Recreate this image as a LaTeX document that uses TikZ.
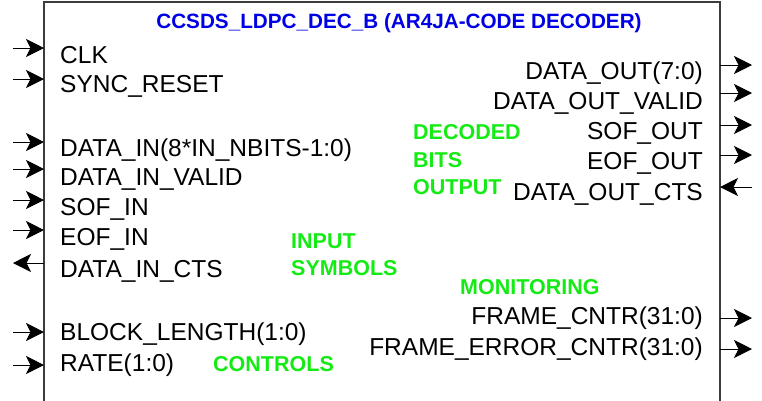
\documentclass[tikz,border=0pt]{standalone}
\usepackage{fontspec}
\setmainfont{Liberation Sans}
\usetikzlibrary{arrows.meta}
\definecolor{ttlblue}{RGB}{0,0,230}
\definecolor{lblgreen}{RGB}{20,235,20}
\definecolor{boxline}{RGB}{60,60,60}
\tikzset{
  port/.style={inner sep=0pt,font=\fontsize{24.5bp}{27bp}\selectfont,text height=17.5bp,text depth=0pt},
  lport/.style={port,anchor=west},
  rport/.style={port,anchor=east},
  grp/.style={inner sep=0pt,text=lblgreen,font=\fontsize{21.5bp}{27.5bp}\selectfont\bfseries,align=left},
  sig/.style={draw=black,line width=0.9bp,-{Stealth[length=18bp,width=18bp,inset=4.5bp]}},
}
\begin{document}
\begin{tikzpicture}[x=1bp,y=-1bp]
\useasboundingbox (0,0) rectangle (762,400);
% box (bottom edge lies below the picture)
\draw[boxline,line width=1.2bp] (44,410) -- (44,2) -- (720,2) -- (720,410);
\node[inner sep=0pt,text=ttlblue,font=\fontsize{20.7bp}{22bp}\selectfont\bfseries] (title) at (399,23) {CCSDS\_LDPC\_DEC\_B (AR4JA-CODE DECODER)};
% left ports
\node[lport] (clk) at (60,55) {CLK};
\node[lport] (rst) at (60,84) {SYNC\_RESET};
\node[lport] (din) at (60,148) {DATA\_IN(8*IN\_NBITS-1:0)};
\node[lport] (dinv) at (60,177) {DATA\_IN\_VALID};
\node[lport] (sofi) at (60,207) {SOF\_IN};
\node[lport] (eofi) at (60,237) {EOF\_IN};
\node[lport] (dcts) at (60,269) {DATA\_IN\_CTS};
\node[lport] (blen) at (60,332) {BLOCK\_LENGTH(1:0)};
\node[lport] (rate) at (60,363) {RATE(1:0)};
% right ports
\node[rport] (dout) at (703,71) {DATA\_OUT(7:0)};
\node[rport] (doutv) at (703,101) {DATA\_OUT\_VALID};
\node[rport] (sofo) at (703,131) {SOF\_OUT};
\node[rport] (eofo) at (703,161) {EOF\_OUT};
\node[rport] (ocs) at (703,192) {DATA\_OUT\_CTS};
\node[rport] (fc) at (703,316) {FRAME\_CNTR(31:0)};
\node[rport] (fec) at (703,347) {FRAME\_ERROR\_CNTR(31:0)};
% group labels (base anchor = baseline of last line)
\node[grp,anchor=base west] (gdec) at (413,194.7) {DECODED\\BITS\\OUTPUT};
\node[grp,anchor=base west] (ginp) at (291,275.7) {INPUT\\SYMBOLS};
\node[grp,anchor=base west] (gmon) at (460,294.7) {MONITORING};
\node[grp,anchor=base west] (gctl) at (213,371.7) {CONTROLS};
% port ends
\foreach \n/\y in {clk/48,rst/79,din/142,dinv/169,sofi/200,eofi/230,dcts/263,blen/332,rate/365}{
  \coordinate (\n-o) at (13,\y);
  \coordinate (\n-e) at (44,\y);
}
\foreach \n/\y in {dout/65,doutv/93,sofo/125,eofo/155,ocs/187,fc/318,fec/349}{
  \coordinate (\n-e) at (720,\y);
  \coordinate (\n-o) at (752,\y);
}
\foreach \n in {clk,rst,din,dinv,sofi,eofi,blen,rate}{\draw[sig] (\n-o) -- (\n-e);}
\draw[sig] (dcts-e) -- (dcts-o);
\foreach \n in {dout,doutv,sofo,eofo,fc,fec}{\draw[sig] (\n-e) -- (\n-o);}
\draw[sig] (ocs-o) -- (ocs-e);
\end{tikzpicture}
\end{document}
